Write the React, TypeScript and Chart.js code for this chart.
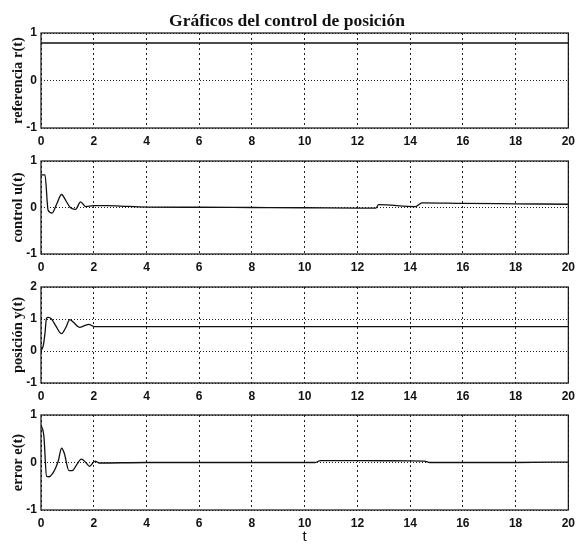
import React, { useEffect, useRef } from "react";
import { Chart, registerables } from "chart.js";

Chart.register(...registerables);

// ---- data ----
const chartTitle = "Gráficos del control de posición";
const xAxisLabel = "t";
const xTickStep = 2;
const xMin = 0;
const xMax = 20;

const tR = [0, 20];
const rVals = [0.79, 0.79];

const tU = [0, 0.15, 0.27, 0.42, 0.6, 0.78, 0.95, 1.11, 1.31, 1.5, 1.69, 2.0, 2.5, 3.0, 4.0, 6, 8, 10, 12, 12.7, 12.8, 14.2, 14.45, 16, 18, 20];
const uVals = [0.7, 0.7, -0.06, -0.12, 0.08, 0.28, 0.14, 0.0, -0.04, 0.12, 0.02, 0.04, 0.04, 0.03, 0.01, 0.005, 0, -0.005, -0.015, -0.015, 0.06, 0.02, 0.1, 0.09, 0.08, 0.07];

const tY = [0, 0.09, 0.15, 0.21, 0.27, 0.4, 0.55, 0.78, 0.95, 1.09, 1.25, 1.46, 1.65, 1.81, 2.03, 3, 20];
const yVals = [0, 0.18, 0.55, 1.03, 1.05, 1.0, 0.8, 0.54, 0.75, 0.98, 0.88, 0.74, 0.79, 0.83, 0.76, 0.76, 0.76];

const tE = [0, 0.11, 0.21, 0.31, 0.43, 0.55, 0.65, 0.78, 0.88, 1.06, 1.19, 1.35, 1.53, 1.7, 1.84, 2.05, 2.2, 4, 8, 10.4, 10.6, 12, 14, 14.55, 14.75, 16, 18, 20];
const eVals = [0.79, 0.55, -0.29, -0.3, -0.24, -0.12, 0.02, 0.3, 0.2, -0.17, -0.17, -0.05, 0.07, 0.0, -0.08, 0.03, -0.01, 0, 0, 0, 0.04, 0.04, 0.035, 0.03, 0, 0, 0, 0.01];

const panelLabels = ["referencia r(t)", "control u(t)", "posición y(t)", "error e(t)"];
const panelRanges = [
  [-1, 1],
  [-1, 1],
  [-1, 2],
  [-1, 1],
];
const panelT = [tR, tU, tY, tE];
const panelV = [rVals, uVals, yVals, eVals];

// ---- layout ----
const W = 581;
const plotTops = [33, 161, 287, 415];
const plotBottoms = [128, 254, 383, 510];
const AXIS_W = 41;
const RIGHT_PAD = 7;
const X_AXIS_H = 22;
const X_AXIS_H_LAST = 36;
const TOP_PAD = 12;

const tickFont = { family: "'Liberation Sans', Arial, sans-serif", size: 12, weight: "bold" as const };
const labelFont = { family: "'Liberation Serif', 'Times New Roman', serif", size: 14.5, weight: "bold" as const };

const boxPlugin = {
  id: "boxPlugin",
  afterDatasetsDraw(chart: any) {
    const { ctx, chartArea: a } = chart;
    ctx.save();
    ctx.strokeStyle = "#111";
    ctx.lineWidth = 1.2;
    ctx.setLineDash([]);
    ctx.strokeRect(a.left, a.top, a.right - a.left, a.bottom - a.top);
    ctx.restore();
  },
};

function Panel({ index }: { index: number }) {
  const ref = useRef<HTMLCanvasElement | null>(null);
  const first = index === 0;
  const last = index === 3;
  const canvasTop = first ? 0 : plotTops[index] - TOP_PAD;
  const xh = last ? X_AXIS_H_LAST : X_AXIS_H;
  const height = plotBottoms[index] - canvasTop + xh;

  useEffect(() => {
    if (!ref.current) return;
    const data = panelT[index].map((t, i) => ({ x: t, y: panelV[index][i] }));
    const [ymin, ymax] = panelRanges[index];
    const chart = new Chart(ref.current, {
      type: "line",
      data: {
        datasets: [
          {
            data,
            borderColor: "#111",
            borderWidth: 1.3,
            pointRadius: 0,
            fill: false,
            cubicInterpolationMode: "monotone",
          },
        ],
      },
      plugins: [boxPlugin],
      options: {
        responsive: false,
        animation: false,
        devicePixelRatio: 1,
        layout: { padding: { top: first ? 0 : TOP_PAD, right: RIGHT_PAD, bottom: 0, left: 0 } },
        plugins: {
          legend: { display: false },
          tooltip: { enabled: false },
          title: {
            display: first,
            text: chartTitle,
            color: "#111",
            font: { family: "'Liberation Serif', 'Times New Roman', serif", size: 17.5, weight: "bold" },
            padding: { top: 11, bottom: 1 },
          },
        },
        scales: {
          x: {
            type: "linear",
            min: xMin,
            max: xMax,
            ticks: {
              stepSize: xTickStep,
              autoSkip: false,
              maxRotation: 0,
              color: "#111",
              font: tickFont,
              padding: 6,
            },
            grid: { color: "#222", lineWidth: 1, drawTicks: false, borderDash: [2, 3] } as any,
            border: { display: false, dash: [2, 3] },
            title: {
              display: last,
              text: xAxisLabel,
              color: "#111",
              font: { family: "'Liberation Sans', Arial, sans-serif", size: 15 },
              padding: { top: 0, bottom: 0 },
            },
            afterFit: (scale: any) => {
              scale.height = xh;
            },
          },
          y: {
            type: "linear",
            min: ymin,
            max: ymax,
            ticks: {
              stepSize: 1,
              color: "#111",
              font: tickFont,
              padding: 4,
            },
            grid: { color: "#222", lineWidth: 1, drawTicks: false, borderDash: [1, 2] } as any,
            border: { display: false, dash: [1, 2] },
            title: {
              display: true,
              text: panelLabels[index],
              color: "#111",
              font: labelFont,
              padding: { top: 10, bottom: 0 },
            },
            afterFit: (scale: any) => {
              scale.width = AXIS_W;
            },
          },
        },
      } as any,
    });
    return () => chart.destroy();
  }, [index]);

  return (
    <canvas
      ref={ref}
      width={W}
      height={height}
      style={{ position: "absolute", left: 0, top: canvasTop, width: W, height }}
    />
  );
}

export default function App() {
  return (
    <div
      style={{
        position: "fixed",
        left: 0,
        top: 0,
        width: W,
        height: 544,
        overflow: "hidden",
        background: "#fff",
      }}
    >
      {[0, 1, 2, 3].map((i) => (
        <Panel key={i} index={i} />
      ))}
    </div>
  );
}
